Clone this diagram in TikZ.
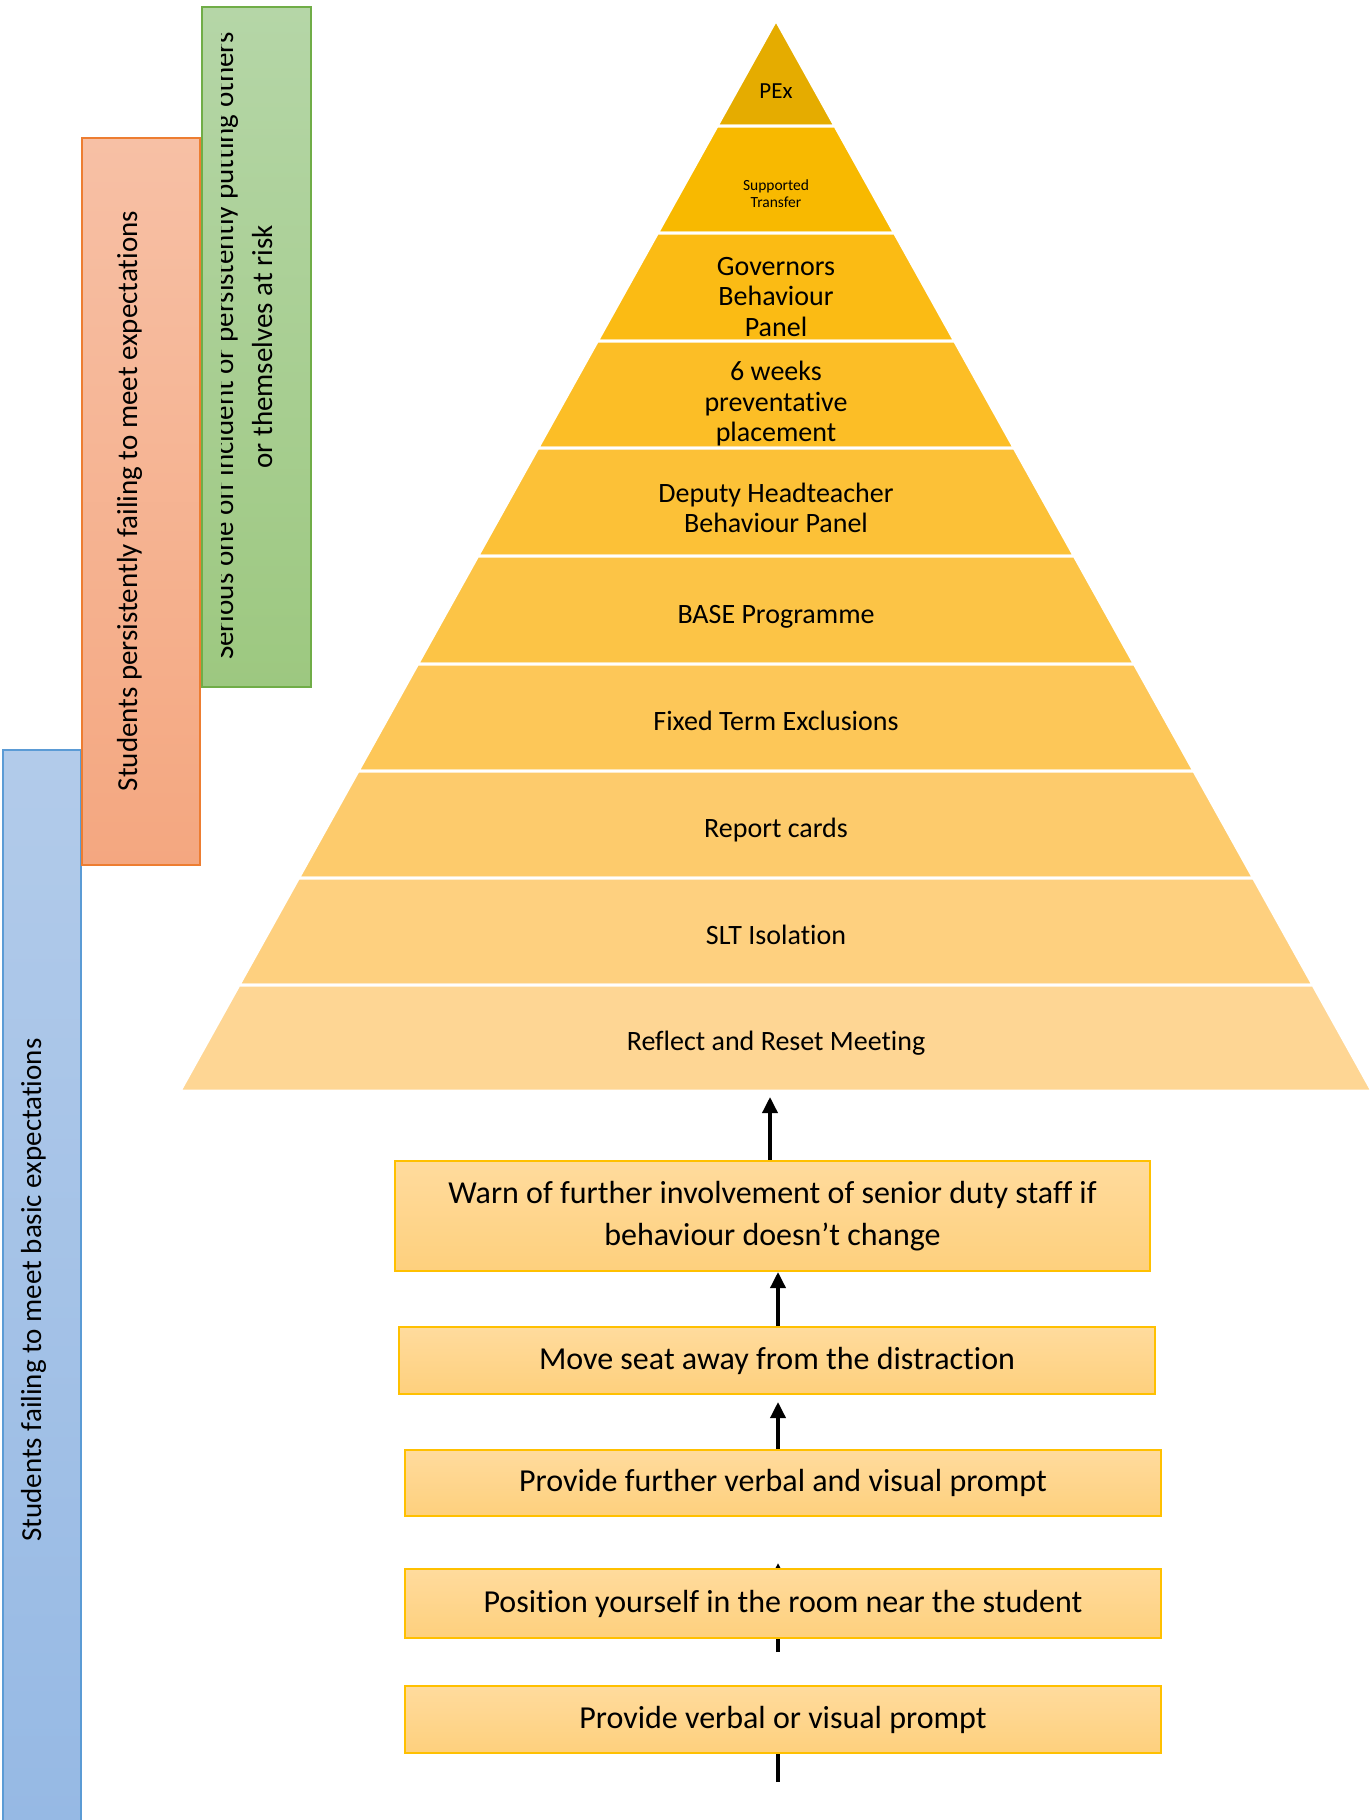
\documentclass[tikz,border=0pt]{standalone}
\usepackage{fontspec}
\setmainfont{Carlito}[Ligatures={NoCommon,NoContextual},Contextuals=NoAlternate]
\usetikzlibrary{arrows.meta,backgrounds}
\newcommand{\brk}{\kern0pt}
\definecolor{L1}{RGB}{229,172,0}
\definecolor{L2}{RGB}{248,185,0}
\definecolor{L3}{RGB}{251,187,20}
\definecolor{L4}{RGB}{252,190,38}
\definecolor{L5}{RGB}{252,193,55}
\definecolor{L6}{RGB}{252,196,70}
\definecolor{L7}{RGB}{253,199,88}
\definecolor{L8}{RGB}{253,203,108}
\definecolor{L9}{RGB}{254,208,127}
\definecolor{L10}{RGB}{254,214,148}
\definecolor{boxtop}{RGB}{255,219,157}
\definecolor{boxbot}{RGB}{254,208,125}
\definecolor{boxline}{RGB}{255,192,0}
\definecolor{gtop}{RGB}{181,214,167}
\definecolor{gbot}{RGB}{157,200,128}
\definecolor{gline}{RGB}{112,173,71}
\definecolor{otop}{RGB}{247,192,165}
\definecolor{obot}{RGB}{244,167,128}
\definecolor{oline}{RGB}{237,125,49}
\definecolor{btop}{RGB}{178,203,234}
\definecolor{bbot}{RGB}{150,185,228}
\definecolor{bline}{RGB}{91,155,213}
\begin{document}
\begin{tikzpicture}[x=1pt,y=-1pt,
  lvl/.style={font=\fontsize{28}{30.5}\selectfont, align=center, inner sep=0pt},
  stepbox/.style={draw=boxline, line width=2pt, top color=boxtop, bottom color=boxbot,
    minimum width=756pt, inner sep=0pt, align=center, font=\fontsize{32}{42}\selectfont},
  sidebox/.style={line width=2pt, inner sep=0pt},
  sidetext/.style={font=\fontsize{29}{34}\selectfont, rotate=90, anchor=base, inner sep=0pt},
  arr/.style={line width=3.5pt, -{Triangle[width=15pt,length=16pt]}}]
\clip (0,0) rectangle (1372,1820);
% side boxes
\node[sidebox, draw=bline, top color=btop, bottom color=bbot, minimum width=78pt, minimum height=1075pt] (blue) at (42,1287.5) {};
\node[sidebox, draw=oline, top color=otop, bottom color=obot, minimum width=118pt, minimum height=727pt] (orange) at (141,501.5) {};
\node[sidebox, draw=gline, top color=gtop, bottom color=gbot, minimum width=109pt, minimum height=680pt] (green) at (256.5,347) {};
\node[sidetext] (bluetxt) at (41,1290) {Students failing to meet basic expectat\brk ions};
\node[sidetext] (orangetxt) at (137,501) {Students persistently failing to meet expectat\brk ions};
\begin{scope}
\clip (221,0) rectangle (320,700);
\node[sidetext] (greentxt1) at (233,346) {Serious one off incident or persistently putt\brk ing others};
\end{scope}
\node[sidetext] (greentxt2) at (272,347) {or themselves at risk};
% pyramid
\foreach \ya/\yb/\col in {20/126/L1,126/233/L2,233/341/L3,341/448/L4,448/556/L5,556/664/L6,664/771/L7,771/878/L8,878/985/L9,985/1091/L10}{
  \filldraw[fill=\col, draw=white, line width=3pt]
    ({776-(\ya-20)*0.5565},\ya) -- ({776+(\ya-20)*0.5565},\ya) --
    ({776+(\yb-20)*0.5565},\yb) -- ({776-(\yb-20)*0.5565},\yb) -- cycle;
}
\node[lvl, font=\fontsize{23}{26}\selectfont] (pex) at (776,91) {PEx};
\node[lvl, font=\fontsize{15.5}{17}\selectfont] (supp) at (776,194) {Supported\\Transfer};
\node[lvl] (gov) at (776,297) {Governors\\Behaviour\\Panel};
\node[lvl] (six) at (776,404) {6 weeks\\preventat\brk ive\\placement};
\node[lvl] (dep) at (776,508) {Deputy Headteacher\\Behaviour Panel};
\node[lvl] (base) at (776,617) {BASE Programme};
\node[lvl] (fixed) at (776,721) {Fixed Term Exclusions};
\node[lvl] (report) at (776,830) {Report cards};
\node[lvl] (slt) at (776,935) {SLT Isolat\brk ion};
\node[lvl] (reflect) at (776,1043) {Reflect and Reset Meet\brk ing};
% boxes
\node[stepbox, minimum width=755pt, minimum height=110pt] (box1) at (772.5,1216) {Warn of further involvement of senior duty staff if\\behaviour doesn’t change};
\node[stepbox, minimum height=67pt] (box2) at (777,1360.5) {Move seat away from the distract\brk ion};
\node[stepbox, minimum height=66pt] (box3) at (783,1483) {Provide further verbal and visual prompt};
\node[stepbox, minimum height=69pt] (box4) at (783,1603.5) {Posit\brk ion yourself in the room near the student};
\node[stepbox, minimum height=67pt] (box5) at (783,1719.5) {Provide verbal or visual prompt};
% arrow ends
\coordinate (t1) at (770,1097);
\coordinate (t2) at (778,1272);
\coordinate (t3) at (778,1402);
\coordinate (t4) at (778,1563);
\coordinate (s4) at (778,1652);
\coordinate (t5) at (778,1700);
\coordinate (s5) at (778,1782);
% arrows (behind the boxes)
\begin{pgfonlayer}{background}
\draw[arr] (box1.center -| t1) -- (t1);
\draw[arr] (box2.center -| t2) -- (t2);
\draw[arr] (box3.center -| t3) -- (t3);
\draw[arr] (s4) -- (t4);
\draw[arr] (s5) -- (t5);
\end{pgfonlayer}
\end{tikzpicture}
\end{document}
